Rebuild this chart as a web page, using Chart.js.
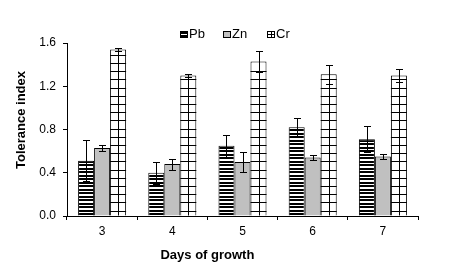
<!DOCTYPE html>
<html><head><meta charset="utf-8">
<script src="https://cdn.jsdelivr.net/npm/chart.js@4/dist/chart.umd.min.js"></script>
<style>html,body{margin:0;padding:0;background:#fff;}#wrap{width:450px;height:277px;}</style>
</head><body><div id="wrap"><canvas id="c" width="450" height="277"></canvas></div>
<script>
// ---- data ----
const days = ['3', '4', '5', '6', '7'];
const seriesNames = ['Pb', 'Zn', 'Cr'];
const pbValues = [0.51, 0.40, 0.65, 0.82, 0.71];
const pbErrors = [0.19, 0.10, 0.10, 0.09, 0.12];
const znValues = [0.63, 0.48, 0.50, 0.54, 0.55];
const znErrors = [0.03, 0.05, 0.09, 0.025, 0.025];
const crValues = [1.54, 1.30, 1.43, 1.31, 1.30];
const crErrors = [0.015, 0.01, 0.10, 0.09, 0.06];
const yTickValues = [0, 0.4, 0.8, 1.2, 1.6];
const xTitle = 'Days of growth';
const yTitle = 'Tolerance index';

const FONT = '"Liberation Sans", Arial, sans-serif';
const errorSets = [pbErrors, znErrors, crErrors];

// horizontal-stripe pattern for Pb
function stripePattern() {
  const c = document.createElement('canvas');
  c.width = 4; c.height = 7;
  const g = c.getContext('2d');
  g.fillStyle = '#fff'; g.fillRect(0, 0, 4, 7);
  g.fillStyle = '#000';
  g.fillRect(0, 0, 4, 2);
  g.fillRect(0, 3, 4, 2);
  return g.createPattern(c, 'repeat');
}

const gridOpts = { display: true, drawOnChartArea: false, drawTicks: true, tickLength: 4, color: '#000', lineWidth: 1 };
const tickFont = { family: FONT, size: 12 };

const errorBarPlugin = {
  id: 'errorBars',
  afterDatasetsDraw(chart) {
    const ctx = chart.ctx, ys = chart.scales.y;
    ctx.save();
    ctx.strokeStyle = '#000'; ctx.lineWidth = 1;
    chart.data.datasets.forEach((ds, di) => {
      const meta = chart.getDatasetMeta(di);
      meta.data.forEach((el, i) => {
        const v = ds.data[i], e = errorSets[di][i];
        const x = Math.round(el.x) + 0.5;
        const yt = Math.round(ys.getPixelForValue(v + e)) + 0.5;
        const yb = Math.round(ys.getPixelForValue(v - e)) + 0.5;
        ctx.beginPath();
        ctx.moveTo(x, yt); ctx.lineTo(x, yb);
        ctx.moveTo(x - 3.5, yt); ctx.lineTo(x + 3.5, yt);
        ctx.moveTo(x - 3.5, yb); ctx.lineTo(x + 3.5, yb);
        ctx.stroke();
      });
    });
    ctx.restore();
  }
};

const crGridPlugin = {
  id: 'crGrid',
  afterDatasetDraw(chart, args) {
    if (args.index !== 2) return;
    const ctx = chart.ctx;
    ctx.save();
    ctx.strokeStyle = '#000'; ctx.lineWidth = 1;
    args.meta.data.forEach(el => {
      const p = el.getProps(['x', 'y', 'base', 'width'], true);
      const l = p.x - p.width / 2, r = p.x + p.width / 2;
      ctx.beginPath();
      const cx = Math.round(p.x) + 0.5;
      ctx.moveTo(cx, p.y); ctx.lineTo(cx, p.base);
      for (let yy = p.base - 5; yy > p.y + 2; yy -= 8.2) {
        const y = Math.round(yy) + 0.5;
        ctx.moveTo(l, y); ctx.lineTo(r, y);
      }
      ctx.stroke();
    });
    ctx.restore();
  }
};

function legendIcon(ctx, kind, x, y) {
  const w = 8, h = 6;
  ctx.save();
  ctx.lineWidth = 1; ctx.strokeStyle = '#000';
  if (kind === 0) {
    ctx.fillStyle = '#000'; ctx.fillRect(x, y, w, h + 1);
    ctx.fillStyle = '#fff'; ctx.fillRect(x + 1, y + 3, w - 2, 1);
  } else if (kind === 1) {
    ctx.fillStyle = '#c0c0c0'; ctx.fillRect(x, y, w, h);
    ctx.strokeRect(x + 0.5, y + 0.5, w - 1, h);
  } else {
    ctx.fillStyle = '#fff'; ctx.fillRect(x, y, w, h);
    ctx.strokeRect(x + 0.5, y + 0.5, w - 1, h);
    ctx.beginPath();
    ctx.moveTo(x + 4.5, y); ctx.lineTo(x + 4.5, y + h + 1);
    ctx.moveTo(x, y + 3.5); ctx.lineTo(x + w, y + 3.5);
    ctx.stroke();
  }
  ctx.restore();
}

const decorPlugin = {
  id: 'decor',
  afterDraw(chart) {
    const ctx = chart.ctx, a = chart.chartArea;
    ctx.save();
    // legend
    ctx.font = '13px ' + FONT;
    ctx.fillStyle = '#000';
    ctx.textBaseline = 'middle';
    ctx.textAlign = 'left';
    const starts = [180, 223, 267];
    seriesNames.forEach((n, i) => {
      legendIcon(ctx, i, starts[i], 31);
      ctx.fillStyle = '#000';
      ctx.fillText(n, starts[i] + 9, 34);
    });
    // axis titles
    ctx.font = 'bold 13px ' + FONT;
    ctx.textAlign = 'center';
    ctx.fillText(xTitle, a.left + (a.right - a.left) * 0.4, 255);
    ctx.translate(21, 120);
    ctx.rotate(-Math.PI / 2);
    ctx.fillText(yTitle, 0, 0);
    ctx.restore();
  }
};

new Chart(document.getElementById('c'), {
  type: 'bar',
  data: {
    labels: days,
    datasets: [
      { label: seriesNames[0], data: pbValues, backgroundColor: stripePattern(), borderColor: '#000', borderWidth: 1 },
      { label: seriesNames[1], data: znValues, backgroundColor: '#c0c0c0', borderColor: '#000', borderWidth: 1 },
      { label: seriesNames[2], data: crValues, backgroundColor: '#fff', borderColor: '#000', borderWidth: 1 }
    ]
  },
  options: {
    responsive: false,
    animation: false,
    devicePixelRatio: 1,
    layout: { padding: { top: 43, right: 32, left: 0, bottom: 0 } },
    datasets: { bar: { categoryPercentage: 0.684, barPercentage: 1.0 } },
    plugins: { legend: { display: false }, tooltip: { enabled: false } },
    scales: {
      x: {
        grid: Object.assign({ offset: true }, gridOpts),
        border: { display: true, color: '#000', width: 1 },
        ticks: { color: '#000', font: tickFont, padding: 4 },
        afterFit(s) { s.height = 61; }
      },
      y: {
        min: 0, max: 1.6,
        grid: gridOpts,
        border: { display: true, color: '#000', width: 1 },
        afterBuildTicks(s) { s.ticks = yTickValues.map(v => ({ value: v })); },
        ticks: { color: '#000', font: tickFont, padding: 7, callback: v => Number(v).toFixed(1) },
        afterFit(s) { s.width = 67; }
      }
    }
  },
  plugins: [crGridPlugin, errorBarPlugin, decorPlugin]
});
</script></body></html>
